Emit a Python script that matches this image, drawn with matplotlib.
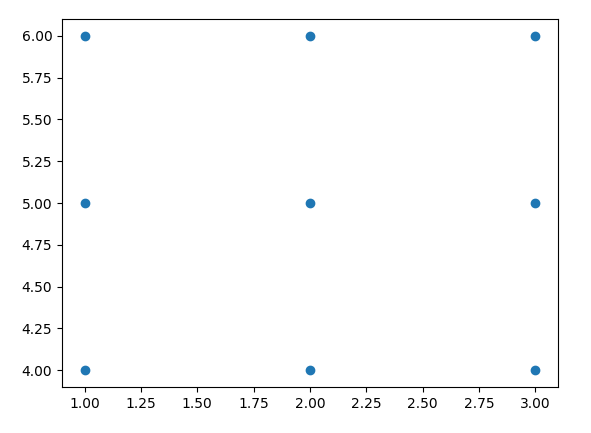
import matplotlib
matplotlib.use("Agg")
import matplotlib.pyplot as plt

# 3x3 grid of points
x_vals = [1, 2, 3, 1, 2, 3, 1, 2, 3]
y_vals = [4, 4, 4, 5, 5, 5, 6, 6, 6]

W, H = 591, 433
fig = plt.figure(figsize=(W / 100, H / 100), dpi=100)
ax = fig.add_axes([62 / W, 1 - 387 / H, (558 - 62) / W, (387 - 19) / H])
ax.scatter(x_vals, y_vals)
ax.xaxis.set_major_formatter(matplotlib.ticker.FormatStrFormatter('%.2f'))
ax.yaxis.set_major_formatter(matplotlib.ticker.FormatStrFormatter('%.2f'))

fig.savefig("out.png")
